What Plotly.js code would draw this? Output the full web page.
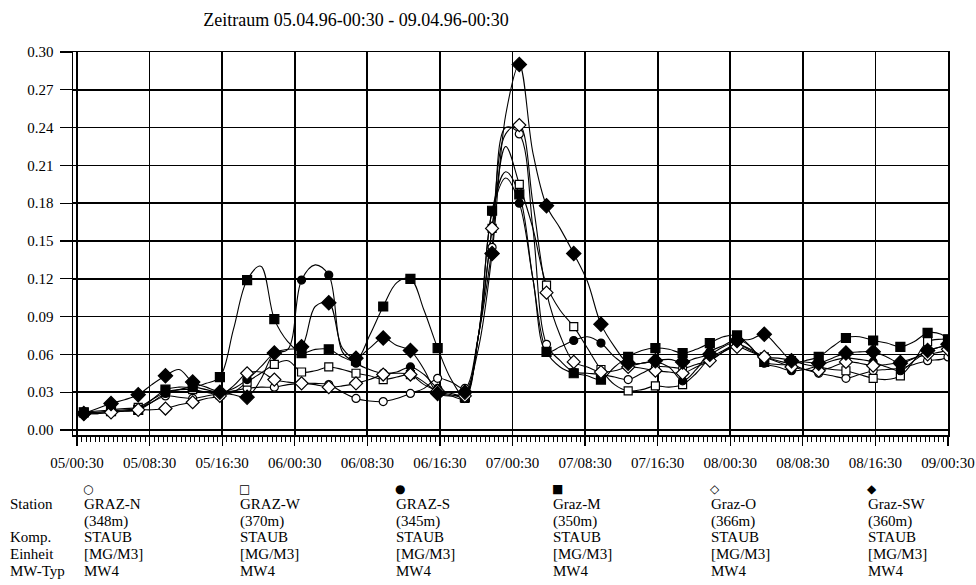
<!DOCTYPE html>
<html>
<head>
<meta charset="utf-8">
<script src="https://cdn.plot.ly/plotly-3.0.1.min.js"></script>
<style>html,body{margin:0;padding:0;background:#fff;}#chart{width:976px;height:585px;}</style>
</head>
<body>
<div id="chart"></div>
<script>
// Hours after 05.04.96 00:30 (every 1.5 h; markers every 3 h)
const hours = [0.75,2.25,3.75,5.25,6.75,8.25,9.75,11.25,12.75,14.25,15.75,17.25,18.75,20.25,21.75,23.25,24.75,26.25,27.75,29.25,30.75,32.25,33.75,35.25,36.75,38.25,39.75,41.25,42.75,44.25,45.75,47.25,48.75,50.25,51.75,53.25,54.75,56.25,57.75,59.25,60.75,62.25,63.75,65.25,66.75,68.25,69.75,71.25,72.75,74.25,75.75,77.25,78.75,80.25,81.75,83.25,84.75,86.25,87.75,89.25,90.75,92.25,93.75,95.25,96];

const grazN = [0.014,0.014, 0.015,0.016, 0.017,0.022, 0.027,0.026, 0.025,0.027, 0.029,0.031, 0.033,0.034, 0.034,0.036, 0.037,0.037, 0.036,0.030, 0.025,0.023, 0.0225,0.025, 0.029,0.033, 0.041,0.038, 0.033,0.075, 0.145,0.240, 0.235,0.160, 0.068,0.055, 0.046,0.045, 0.044,0.042, 0.040,0.045, 0.050,0.050, 0.049,0.052, 0.055,0.062, 0.068,0.063, 0.058,0.055, 0.052,0.048, 0.045,0.043, 0.041,0.044, 0.047,0.048, 0.049,0.052, 0.055,0.056, 0.058];
const grazW = [0.014,0.015, 0.016,0.017, 0.018,0.024, 0.030,0.032, 0.032,0.030, 0.028,0.030, 0.038,0.045, 0.052,0.055, 0.046,0.047, 0.050,0.048, 0.045,0.043, 0.040,0.042, 0.044,0.038, 0.030,0.027, 0.025,0.075, 0.160,0.225, 0.195,0.160, 0.115,0.095, 0.082,0.065, 0.048,0.036, 0.031,0.032, 0.035,0.034, 0.036,0.045, 0.057,0.063, 0.068,0.064, 0.058,0.057, 0.055,0.052, 0.050,0.048, 0.047,0.044, 0.041,0.040, 0.043,0.055, 0.070,0.072, 0.072];
const grazS = [0.013,0.013, 0.014,0.015, 0.016,0.022, 0.029,0.032, 0.034,0.032, 0.030,0.033, 0.040,0.050, 0.061,0.064, 0.119,0.131, 0.123,0.062, 0.053,0.048, 0.045,0.046, 0.050,0.044, 0.033,0.029, 0.028,0.075, 0.173,0.200, 0.180,0.120, 0.062,0.066, 0.071,0.074, 0.069,0.058, 0.051,0.053, 0.054,0.050, 0.039,0.048, 0.062,0.067, 0.072,0.066, 0.053,0.050, 0.047,0.048, 0.051,0.055, 0.057,0.056, 0.054,0.050, 0.047,0.055, 0.062,0.066, 0.066];
const grazM = [0.014,0.014, 0.015,0.015, 0.016,0.024, 0.032,0.034, 0.034,0.037, 0.042,0.080, 0.119,0.130, 0.088,0.070, 0.061,0.064, 0.064,0.058, 0.055,0.075, 0.098,0.117, 0.120,0.095, 0.065,0.040, 0.026,0.075, 0.174,0.205, 0.187,0.120, 0.062,0.050, 0.045,0.043, 0.040,0.050, 0.058,0.063, 0.065,0.064, 0.061,0.064, 0.069,0.074, 0.075,0.066, 0.054,0.052, 0.052,0.055, 0.058,0.066, 0.073,0.074, 0.071,0.069, 0.066,0.070, 0.077,0.076, 0.072];
const grazO = [0.013,0.013, 0.014,0.015, 0.016,0.016, 0.017,0.020, 0.022,0.025, 0.027,0.035, 0.045,0.046, 0.040,0.038, 0.037,0.036, 0.034,0.035, 0.037,0.040, 0.044,0.045, 0.044,0.036, 0.031,0.028, 0.027,0.075, 0.160,0.235, 0.242,0.180, 0.109,0.075, 0.054,0.050, 0.046,0.047, 0.050,0.049, 0.047,0.046, 0.045,0.050, 0.055,0.062, 0.066,0.062, 0.058,0.054, 0.050,0.048, 0.047,0.050, 0.054,0.053, 0.051,0.052, 0.054,0.057, 0.060,0.062, 0.064];
const grazSW = [0.013,0.017, 0.021,0.024, 0.028,0.036, 0.043,0.048, 0.038,0.034, 0.030,0.028, 0.026,0.040, 0.061,0.064, 0.066,0.098, 0.101,0.065, 0.057,0.065, 0.073,0.067, 0.063,0.048, 0.029,0.027, 0.030,0.065, 0.140,0.250, 0.290,0.220, 0.178,0.160, 0.140,0.118, 0.084,0.066, 0.053,0.053, 0.055,0.056, 0.054,0.057, 0.060,0.066, 0.071,0.072, 0.076,0.066, 0.055,0.054, 0.053,0.057, 0.061,0.062, 0.062,0.058, 0.053,0.057, 0.063,0.066, 0.068];

const stations = ['GRAZ-N','GRAZ-W','GRAZ-S','Graz-M','Graz-O','Graz-SW'];
const heights = ['(348m)','(370m)','(345m)','(350m)','(366m)','(360m)'];
const component = 'STAUB';
const unit = '[MG/M3]';
const mwType = 'MW4';
const rowLabels = ['Station','','Komp.','Einheit','MW-Typ'];
const legendSymbols = ['\u25CB','\u25A1','\u25CF','\u25A0','\u25C7','\u25C6'];
const titleText = 'Zeitraum 05.04.96-00:30 - 09.04.96-00:30';

const seriesValues = [grazN, grazW, grazS, grazM, grazO, grazSW];
const markerSymbols = ['circle','square','circle','square','diamond','diamond'];
const markerFill = ['#fff','#fff','#000','#000','#fff','#000'];
const markerSize = [8,8,8,9,10,11];

const base = Date.UTC(1996,3,5,0,30);
function fmt(ms){
  const d = new Date(ms);
  const p = n => String(n).padStart(2,'0');
  return d.getUTCFullYear()+'-'+p(d.getUTCMonth()+1)+'-'+p(d.getUTCDate())+' '+p(d.getUTCHours())+':'+p(d.getUTCMinutes())+':'+p(d.getUTCSeconds());
}
const xs = hours.map(h => fmt(base + h*3600000));
const markIdx = hours.map((h,i)=>i).filter(i => i%2===0 || i===hours.length-1);

const traces = [];
seriesValues.forEach((vals, s) => {
  traces.push({x: xs, y: vals, type:'scatter', mode:'lines', line:{color:'#000', width:1.1, shape:'spline', smoothing:1}, hoverinfo:'skip', showlegend:false});
});
seriesValues.forEach((vals, s) => {
  traces.push({x: markIdx.map(i=>xs[i]), y: markIdx.map(i=>vals[i]), type:'scatter', mode:'markers',
    marker:{symbol: markerSymbols[s], size: markerSize[s], color: markerFill[s], line:{color:'#000', width:1.2}}, showlegend:false, name: stations[s]});
});

// Plot-area geometry in pixels
const L = 73, R = 28, T = 52, B = 150, Wd = 976, Ht = 585;
const PW = Wd - L - R, PH = Ht - T - B;
const px = x => (x - L)/PW;
const py = y => (Ht - B - y)/PH;

const serif = "'Liberation Serif', 'Times New Roman', Times, serif";
const annotations = [];
const rowY = [504, 521, 537, 554, 571];
rowLabels.forEach((t, r) => { if (t) annotations.push({xref:'paper', yref:'paper', x: px(8), y: py(rowY[r]), xanchor:'left', yanchor:'middle', text:t, showarrow:false, font:{family:serif, size:15, color:'#000'}}); });
const colX = [82, 238, 394, 551, 709, 866];
stations.forEach((st, c) => {
  const lines = [st, heights[c], component, unit, mwType];
  annotations.push({xref:'paper', yref:'paper', x: px(colX[c]-1), y: py(489), xanchor:'left', yanchor:'middle', text: legendSymbols[c], showarrow:false, font:{family:'DejaVu Sans', size:12, color:'#000'}});
  lines.forEach((t, r) => annotations.push({xref:'paper', yref:'paper', x: px(colX[c]), y: py(rowY[r]), xanchor:'left', yanchor:'middle', text:t, showarrow:false, font:{family:serif, size:15, color:'#000'}}));
});

const layout = {
  width: Wd, height: Ht,
  margin: {l:L, r:R, t:T, b:B, pad:0},
  paper_bgcolor:'#fff', plot_bgcolor:'#fff',
  font: {family: serif, size: 15, color:'#000'},
  title: {text: titleText, x: 356/Wd, xanchor:'center', y: 1 - 20/Ht, yanchor:'middle', yref:'container', xref:'container', font:{family:serif, size:18, color:'#000'}},
  xaxis: {
    type:'date', range:[fmt(base - 0.44*3600000), fmt(base + 96*3600000)],
    tick0: fmt(base), dtick: 8*3600000, tickformat:'%d/%H:%M',
    ticks:'outside', ticklen:9, tickwidth:1.2, tickcolor:'#000',
    showgrid:true, gridcolor:'#000', gridwidth:1.7,
    showline:true, linecolor:'#000', linewidth:1.5, mirror:true,
    zeroline:false, ticklabelstandoff: 4,
    tickfont:{family:serif, size:15, color:'#000'},
    minor:{dtick: 1800000, tick0: fmt(base), ticks:'outside', ticklen:5, tickcolor:'#000', tickwidth:1, showgrid:false}
  },
  yaxis: {
    range:[-0.004, 0.30], tick0:0, dtick:0.03, tickformat:'.2f',
    ticks:'outside', ticklen:12, tickwidth:1.2, tickcolor:'#000',
    showgrid:true, gridcolor:'#000', gridwidth:1.7,
    showline:true, linecolor:'#000', linewidth:1.5, mirror:true,
    zeroline:false, ticklabelstandoff: 3, tickfont:{family:serif, size:15, color:'#000'}
  },
  annotations: annotations,
  showlegend:false
};

Plotly.newPlot('chart', traces, layout, {staticPlot:true, displayModeBar:false});
</script>
</body>
</html>
